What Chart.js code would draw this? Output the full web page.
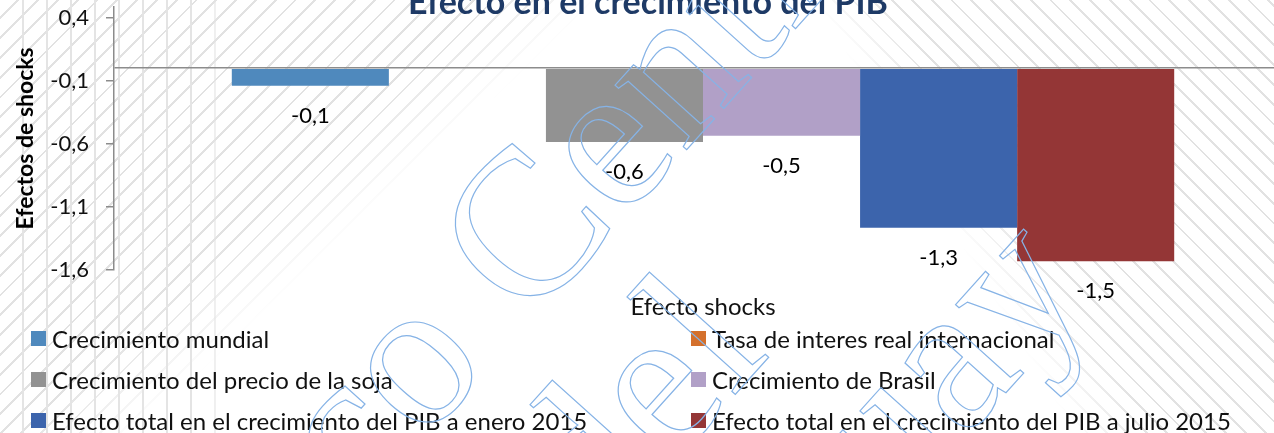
<!DOCTYPE html>
<html>
<head>
<meta charset="utf-8">
<script src="https://cdn.jsdelivr.net/npm/chart.js@4.4.1/dist/chart.umd.min.js"></script>
<style>
  html, body { margin: 0; padding: 0; width: 1274px; height: 433px; overflow: hidden; background: #fff; font-family: Lato, "Noto Sans", sans-serif; }
  .hatch { position: absolute; left: 0; top: 0; width: 1274px; height: 433px; }
  #hatchL {
    background: repeating-linear-gradient(135deg, transparent 0 12px, #e2e2e2 12px 14px);
    -webkit-mask-image: linear-gradient(137deg, #000 0, #000 330px, transparent 410px);
    mask-image: linear-gradient(137deg, #000 0, #000 330px, transparent 410px);
  }
  #hatchV {
    background: repeating-linear-gradient(90deg, transparent 0 22px, #e4e4e4 22px 24px);
    -webkit-mask-image: linear-gradient(90deg, #000 0, #000 200px, transparent 235px);
    mask-image: linear-gradient(90deg, #000 0, #000 200px, transparent 235px);
  }
  #hatchR {
    background: repeating-linear-gradient(45deg, transparent 0 12px, #e2e2e2 12px 14px);
    -webkit-mask-image: linear-gradient(59deg, transparent 0, transparent 920px, #000 990px);
    mask-image: linear-gradient(59deg, transparent 0, transparent 920px, #000 990px);
  }
  #wrap { position: absolute; left: 0; top: -30px; width: 1300px; height: 360px; }
  #legend { position: absolute; left: 0; top: 0; width: 1274px; height: 433px; pointer-events: none; }
  .item { position: absolute; display: flex; align-items: center; font-size: 24px; color: #111; white-space: nowrap; }
  .box { width: 15px; height: 15px; margin-right: 6px; }
  /* watermark of the source slide */
  #wm {
    position: absolute; left: 633px; top: 402px;
    transform: translate(-50%, -50%) rotate(-48deg);
    font-family: "Liberation Serif", "DejaVu Serif", serif; font-size: 210px; line-height: 200px;
    text-align: center; white-space: pre; color: transparent;
    -webkit-text-stroke: 1.2px #86b3e6; pointer-events: none;
  }
</style>
</head>
<body>
<div class="hatch" id="hatchL"></div>
<div class="hatch" id="hatchV"></div>
<div class="hatch" id="hatchR"></div>
<div id="wrap"><canvas id="chart"></canvas></div>
<div id="legend"></div>
<div id="wm">Banco Central
del
Paraguay</div>
<script>
// Data
const categories = ["Efecto shocks"];
const seriesNames = [
    "Crecimiento mundial",
    "Tasa de interes real internacional",
    "Crecimiento del precio de la soja",
    "Crecimiento de Brasil",
    "Efecto total en el crecimiento del PIB a enero 2015",
    "Efecto total en el crecimiento del PIB a julio 2015"
];
const seriesValues = [-0.14, 0, -0.585, -0.535, -1.265, -1.53];
const seriesColors = ["#4f89bd", "#d4702c", "#929292", "#b1a0c7", "#3c64ac", "#943636"];
const yTicks = [0.4, -0.1, -0.6, -1.1, -1.6];

const FONT = 'Lato, "Noto Sans", sans-serif';
const fmt = v => v.toFixed(1).replace('.', ',');

// labels under each bar end
const barLabels = {
    id: 'barLabels',
    afterDatasetsDraw(chart) {
        const ctx = chart.ctx;
        ctx.save();
        ctx.font = '22px ' + FONT;
        ctx.fillStyle = '#000';
        ctx.textAlign = 'center';
        ctx.textBaseline = 'middle';
        chart.data.datasets.forEach((ds, i) => {
            const bar = chart.getDatasetMeta(i).data[0];
            const v = ds.data[0];
            if (!bar || v === 0) return;
            ctx.fillText(fmt(v), bar.x, bar.y + 30);
        });
        ctx.restore();
    }
};

const datasets = seriesNames.map((name, i) => ({
    label: name,
    data: [seriesValues[i]],
    backgroundColor: seriesColors[i],
    borderWidth: 0,
    categoryPercentage: 0.8,
    barPercentage: 1.0
}));

const chart = new Chart(document.getElementById('chart').getContext('2d'), {
    type: 'bar',
    data: { labels: categories, datasets: datasets },
    plugins: [barLabels],
    options: {
        responsive: true,
        maintainAspectRatio: false,
        animation: false,
        layout: { padding: { left: 4, right: 8, top: 0, bottom: 0 } },
        plugins: {
            legend: { display: false },
            tooltip: { enabled: false },
            title: {
                display: true,
                text: 'Efecto en el crecimiento del PIB',
                color: '#1e3a66',
                font: { family: FONT, size: 34, weight: 'bold', lineHeight: 1.2 },
                padding: { top: 13, bottom: -17 }
            }
        },
        scales: {
            x: {
                grid: { display: false, drawTicks: false },
                border: { display: false },
                ticks: { color: '#111', padding: 23, font: { family: FONT, size: 24 } },
                afterFit(scale) { scale.height = 60; }
            },
            y: {
                min: -1.6,
                max: 0.487,
                afterBuildTicks(scale) {
                    scale.ticks = yTicks.concat([0]).map(v => ({ value: v }));
                },
                afterFit(scale) { scale.width = 110; },
                border: { display: true, color: '#8c8c8c', width: 1.5 },
                grid: {
                    drawOnChartArea: true,
                    tickLength: 8,
                    lineWidth: 1.5,
                    color: c => (c.tick && c.tick.value === 0) ? '#8c8c8c' : 'transparent',
                    tickColor: c => (c.tick && c.tick.value === 0) ? 'transparent' : '#8c8c8c'
                },
                ticks: {
                    color: '#111',
                    padding: 17,
                    font: { family: FONT, size: 22 },
                    callback: v => v === 0 ? '' : fmt(v)
                },
                title: {
                    display: true,
                    text: 'Efectos de shocks',
                    color: '#000',
                    padding: { top: 8, bottom: 4 },
                    font: { family: FONT, size: 23, weight: 'bold' }
                }
            }
        }
    }
});

// legend in two columns, built from the datasets
const legend = document.getElementById('legend');
const rowCenters = [338, 379, 420];
const colLefts = [31, 691];
chart.data.datasets.forEach((ds, i) => {
    const item = document.createElement('div');
    item.className = 'item';
    item.style.left = colLefts[i % 2] + 'px';
    item.style.top = (rowCenters[Math.floor(i / 2)] - 14) + 'px';
    item.style.height = '28px';
    const box = document.createElement('span');
    box.className = 'box';
    box.style.background = ds.backgroundColor;
    const txt = document.createElement('span');
    txt.textContent = ds.label;
    item.appendChild(box);
    item.appendChild(txt);
    legend.appendChild(item);
});
</script>
</body>
</html>
